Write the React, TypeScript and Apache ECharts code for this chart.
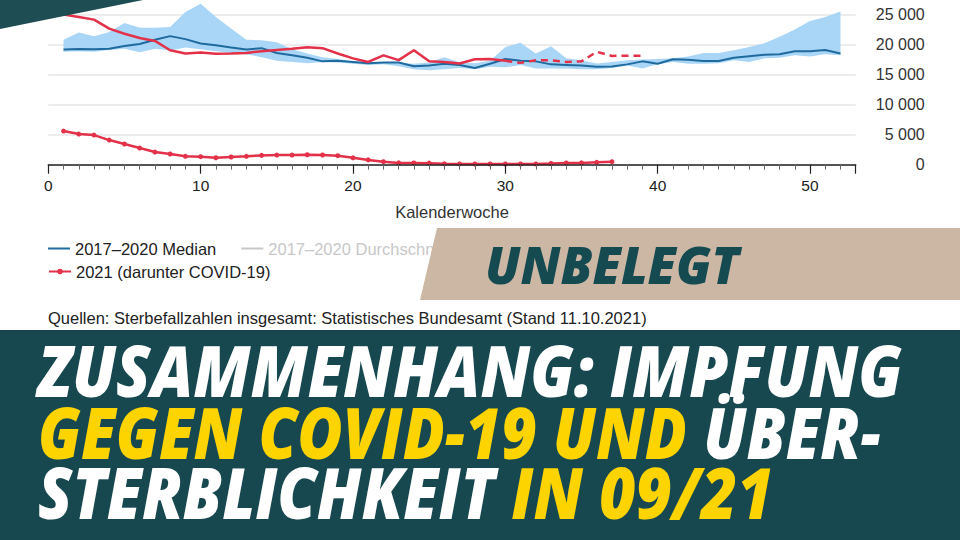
import React, { useEffect, useRef } from "react";
import * as echarts from "echarts";

const weeks = [1,2,3,4,5,6,7,8,9,10,11,12,13,14,15,16,17,18,19,20,21,22,23,24,25,26,27,28,29,30,31,32,33,34,35,36,37,38,39,40,41,42,43,44,45,46,47,48,49,50,51,52];
const median = [19170,19270,19200,19300,19770,20100,20800,21400,20900,20170,19900,19500,19170,19400,18600,18200,17800,17200,17300,17100,16900,17000,17000,16400,16500,16800,16600,16100,16800,17600,17300,17200,16700,16600,16500,16300,16350,16700,17200,16800,17550,17450,17250,17250,17800,18050,18300,18400,18900,18900,19100,18500];
const bandUpper = [20800,22000,21400,22100,23600,22800,22800,22900,25400,26800,24600,22650,20800,20700,20400,19200,18500,17900,17600,17200,17000,17100,16900,16800,17000,17900,17000,16900,17300,19600,20300,18500,19700,17700,17400,16850,17100,17400,17500,17600,17700,18000,18600,18600,19050,19600,20200,21300,22500,23900,24600,25500];
const bandLower = [18800,18900,18800,19100,19300,18700,19300,19000,19500,19200,18900,18600,18400,17900,17300,17100,16900,17100,17000,16800,16600,16700,16400,15900,15700,15900,16100,15900,16300,16200,16600,16000,16000,16000,15900,15900,16100,16500,16000,16700,17100,16800,16800,16900,17400,17100,17700,17800,18200,18000,18400,18200];
const weeks2021 = [1,2,3,4,5,6,7,8,9,10,11,12,13,14,15,16,17,18,19,20,21,22,23,24,25,26,27,28,29,30];
const total2021 = [25000,24600,24150,22650,21800,21100,20600,19050,18500,18670,18450,18500,18600,18900,19100,19300,19550,19400,18500,17700,17100,18200,17400,19050,17200,17100,16850,17550,17600,17300];
const weeksPrelim = [30,31,32,33,34,35,36,37,38,39];
const prelim2021 = [17300,16950,17400,17400,17100,17200,18800,18100,18150,18150];
const weeksCovid = [1,2,3,4,5,6,7,8,9,10,11,12,13,14,15,16,17,18,19,20,21,22,23,24,25,26,27,28,29,30,31,32,33,34,35,36,37];
const covid2021 = [5600,5100,4930,4100,3440,2770,2100,1780,1390,1330,1160,1280,1390,1550,1600,1600,1660,1620,1500,1150,800,500,300,280,260,150,130,120,120,120,120,130,200,280,300,400,500];
const weekCategories = Array.from({ length: 54 }, (_, i) => String(i));

const FONT = "'Liberation Sans', Arial, sans-serif";
const HEAD = "'Open Sans', sans-serif";
const RED = "#e23149";
const BLUE = "#1f6a9e";

export default function App() {
  const ref = useRef<HTMLDivElement>(null);
  useEffect(() => {
    if (!ref.current) return;
    const chart = echarts.init(ref.current, null, { renderer: "svg" });
    const pair = (xs: number[], ys: number[]) => xs.map((x, i) => [x, ys[i]]);
    const diff = weeks.map((w, i) => [w, bandUpper[i] - bandLower[i]]);
    const headStyle = { fontFamily: HEAD, fontSize: 70, fontWeight: 800, fontStyle: "italic" };
    chart.setOption({
      animation: false,
      backgroundColor: "#ffffff",
      grid: { left: 48.3, right: 104.3, top: 14.5, bottom: 375.3 },
      xAxis: [
        {
          type: "value", min: 0, max: 53, interval: 10,
          axisLine: { lineStyle: { color: "#222", width: 1.5 } },
          axisTick: { length: 9, lineStyle: { color: "#222", width: 1.2 } },
          minorTick: { show: true, splitNumber: 10, length: 5, lineStyle: { color: "#666", width: 1 } },
          splitLine: { show: false },
          axisLabel: { color: "#222", fontSize: 15.5, fontFamily: FONT, margin: 13, showMaxLabel: false },
          name: "Kalenderwoche", nameLocation: "middle", nameGap: 39,
          nameTextStyle: { color: "#333", fontSize: 16.5, fontFamily: FONT },
          z: 5,
        },
        {
          type: "category", data: weekCategories, boundaryGap: false, show: false,
        },
      ],
      yAxis: {
        type: "value", position: "right", min: 0, max: 25000, interval: 5000,
        axisLine: { show: false }, axisTick: { show: false },
        splitLine: { lineStyle: { color: "#e6e6e6", width: 1.5 } },
        axisLabel: {
          align: "right", margin: 69, color: "#333", fontSize: 16, fontFamily: FONT,
          formatter: (v: number) => (v === 0 ? "0" : v / 1000 + " 000"),
        },
      },
      legend: [
        {
          left: 48, top: 240, padding: 0, itemGap: 25, itemWidth: 22, itemHeight: 2, icon: "rect",
          data: ["2017–2020 Median", "2017–2020 Durchschnitt"],
          selected: { "2017–2020 Durchschnitt": false },
          inactiveColor: "#c8c8c8",
          textStyle: { color: "#222", fontSize: 16.5, fontFamily: FONT },
        },
        {
          left: 48, top: 263, padding: 0, itemWidth: 22, itemHeight: 7,
          data: ["2021 (darunter COVID-19)"],
          textStyle: { color: "#222", fontSize: 16.5, fontFamily: FONT },
        },
      ],
      series: [
        {
          name: "band-lower", type: "line", stack: "band", xAxisIndex: 1, data: pair(weeks, bandLower),
          symbol: "none", lineStyle: { opacity: 0 }, silent: true, clip: false,
        },
        {
          name: "band", type: "line", stack: "band", xAxisIndex: 1, data: diff,
          symbol: "none", lineStyle: { opacity: 0 }, clip: false,
          areaStyle: { color: "#a9d6f6", opacity: 1 }, silent: true,
        },
        {
          name: "2017–2020 Median", type: "line", data: pair(weeks, median),
          symbol: "none", color: BLUE, lineStyle: { color: BLUE, width: 2 },
        },
        { name: "2017–2020 Durchschnitt", type: "line", data: [], color: "#999", symbol: "none" },
        {
          name: "2021 (darunter COVID-19)", type: "line", data: pair(weeksCovid, covid2021),
          symbol: "circle", symbolSize: 5, color: RED, lineStyle: { color: RED, width: 2.5 },
        },
        {
          name: "2021 gesamt", type: "line", data: pair(weeks2021, total2021),
          symbol: "none", color: RED, lineStyle: { color: RED, width: 2.5 }, clip: false,
        },
        {
          name: "2021 vorläufig", type: "line", data: pair(weeksPrelim, prelim2021),
          symbol: "none", color: RED, lineStyle: { color: RED, width: 2.5, type: [7, 5] },
        },
      ],
      graphic: [
        {
          type: "text", left: 48, top: 309, z: 50,
          style: { text: "Quellen: Sterbefallzahlen insgesamt: Statistisches Bundesamt (Stand 11.10.2021)", fill: "#222", fontSize: 16.5, fontFamily: FONT },
        },
        {
          type: "polygon", z: 100,
          shape: { points: [[0, 0], [143, 0], [0, 29]] },
          style: { fill: "#1f4d54" },
        },
        {
          type: "polygon", z: 100,
          shape: { points: [[437, 228], [960, 228], [960, 300], [420, 300]] },
          style: { fill: "#cbb7a4" },
        },
        {
          type: "text", z: 101, x: 485, y: 264, scaleX: 0.973,
          style: { text: "UNBELEGT", fill: "#154a51", fontFamily: HEAD, fontSize: 52, fontWeight: 800, fontStyle: "italic", verticalAlign: "middle" },
        },
        {
          type: "rect", z: 100,
          shape: { x: 0, y: 330, width: 960, height: 210 },
          style: { fill: "#174850" },
        },
        {
          type: "text", z: 101, x: 38, y: 370, scaleX: 0.9,
          style: { text: "ZUSAMMENHANG: IMPFUNG", fill: "#ffffff", ...headStyle, verticalAlign: "middle" },
        },
        {
          type: "text", z: 101, x: 38, y: 431, scaleX: 0.882,
          style: {
            text: "{y|GEGEN COVID-19 UND} {w|ÜBER-}", ...headStyle, verticalAlign: "middle",
            rich: { y: { fill: "#fdd300", ...headStyle }, w: { fill: "#ffffff", ...headStyle } },
          },
        },
        {
          type: "text", z: 101, x: 38, y: 492, scaleX: 0.894,
          style: {
            text: "{w|STERBLICHKEIT} {y|IN 09/21}", ...headStyle, verticalAlign: "middle",
            rich: { y: { fill: "#fdd300", ...headStyle }, w: { fill: "#ffffff", ...headStyle } },
          },
        },
      ],
    });
    return () => chart.dispose();
  }, []);
  return <div ref={ref} style={{ position: "absolute", left: 0, top: 0, width: 960, height: 540 }} />;
}
